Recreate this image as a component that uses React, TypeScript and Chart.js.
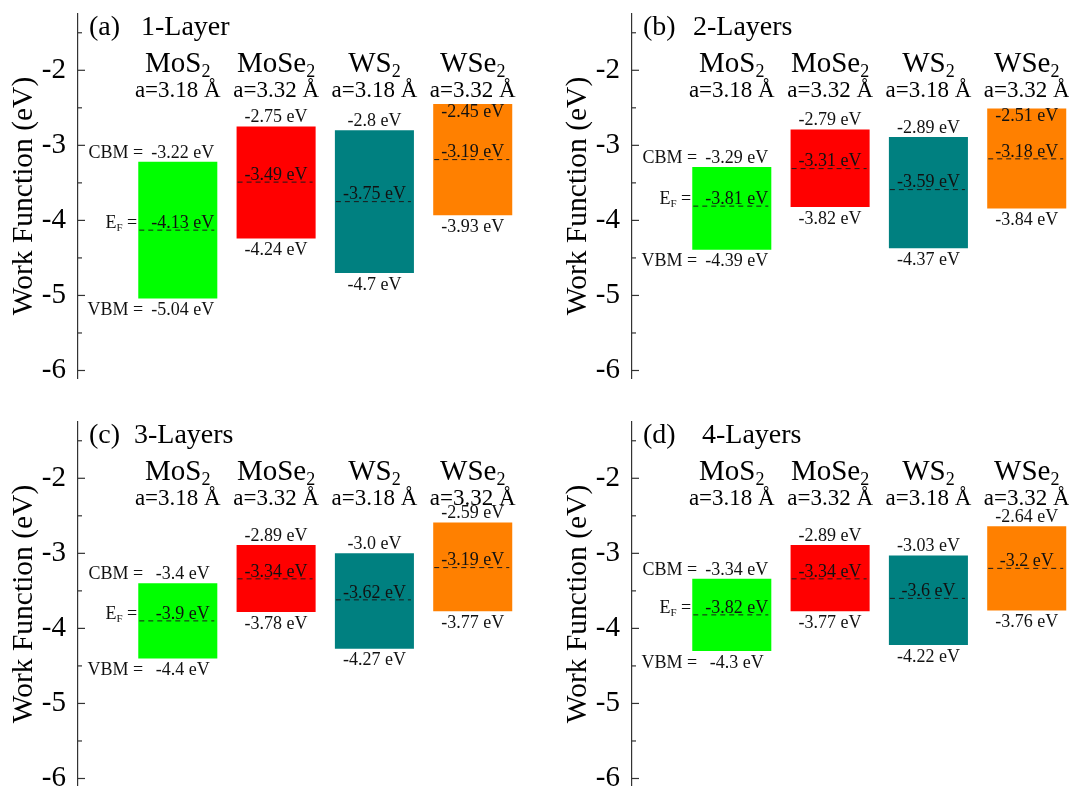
import React, { useEffect, useRef } from 'react';
import { Chart, registerables } from 'chart.js';

Chart.register(...registerables);

// ---------- data ----------
const MATERIAL_FORMULA = ['MoS', 'MoSe', 'WS', 'WSe'];
const MATERIAL_SUB = ['2', '2', '2', '2'];
const LATTICE_LABELS = ['a=3.18 Å', 'a=3.32 Å', 'a=3.18 Å', 'a=3.32 Å'];
const PANEL_LETTERS = ['(a)', '(b)', '(c)', '(d)'];
const PANEL_TITLES = ['1-Layer', '2-Layers', '3-Layers', '4-Layers'];
const X_POSITIONS = [0, 1, 2, 3];
const Y_TICKS = [-6, -5, -4, -3, -2];
const Y_MINOR_TICKS = [-5.5, -4.5, -3.5, -2.5, -1.5];
const Y_TITLE = 'Work Function (eV)';

const CBM_1L = [-3.22, -2.75, -2.8, -2.45];
const EF_1L = [-4.13, -3.49, -3.75, -3.19];
const VBM_1L = [-5.04, -4.24, -4.7, -3.93];

const CBM_2L = [-3.29, -2.79, -2.89, -2.51];
const EF_2L = [-3.81, -3.31, -3.59, -3.18];
const VBM_2L = [-4.39, -3.82, -4.37, -3.84];

const CBM_3L = [-3.4, -2.89, -3.0, -2.59];
const EF_3L = [-3.9, -3.34, -3.62, -3.19];
const VBM_3L = [-4.4, -3.78, -4.27, -3.77];

const CBM_4L = [-3.34, -2.89, -3.03, -2.64];
const EF_4L = [-3.82, -3.34, -3.6, -3.2];
const VBM_4L = [-4.3, -3.77, -4.22, -3.76];

const CBM_ALL = [CBM_1L, CBM_2L, CBM_3L, CBM_4L];
const EF_ALL = [EF_1L, EF_2L, EF_3L, EF_4L];
const VBM_ALL = [VBM_1L, VBM_2L, VBM_3L, VBM_4L];

// ---------- styles / layout ----------
const BAR_COLORS = ['#00ff00', '#ff0000', '#008080', '#ff8000'];
const FONT = '"Liberation Serif", "Times New Roman", serif';
const Y_MIN = -6.1;
const Y_MAX = -1.25;
const AXIS_W = 78;
const AREA_W = 437;
const PANELS = [
  { left: 0, top: 0, width: 540, titleOffset: 63 },
  { left: 554, top: 0, width: 515, titleOffset: 61 },
  { left: 0, top: 408, width: 540, titleOffset: 56 },
  { left: 554, top: 408, width: 515, titleOffset: 70 },
];
const CANVAS_H = 392;
const AREA_TOP = 14;
const AREA_BOTTOM = 378;
const VAL_FONT = 18;

function fmt(v: number): string {
  const s = Number.isInteger(v) ? v.toFixed(1) : String(v);
  return `${s} eV`;
}

function line(ctx: CanvasRenderingContext2D, x1: number, y1: number, x2: number, y2: number) {
  ctx.beginPath();
  ctx.moveTo(x1, y1);
  ctx.lineTo(x2, y2);
  ctx.stroke();
}

function drawSub(
  ctx: CanvasRenderingContext2D,
  main: string,
  sub: string,
  cx: number,
  baseline: number,
  size: number,
  subSize: number,
  drop: number
) {
  ctx.font = `${size}px ${FONT}`;
  const w1 = ctx.measureText(main).width;
  ctx.font = `${subSize}px ${FONT}`;
  const w2 = ctx.measureText(sub).width;
  const x0 = cx - (w1 + w2) / 2;
  ctx.textAlign = 'left';
  ctx.textBaseline = 'alphabetic';
  ctx.font = `${size}px ${FONT}`;
  ctx.fillText(main, x0, baseline);
  ctx.font = `${subSize}px ${FONT}`;
  ctx.fillText(sub, x0 + w1, baseline + drop);
}

function Panel({ idx }: { idx: number }) {
  const ref = useRef<HTMLCanvasElement>(null);
  const p = PANELS[idx];
  useEffect(() => {
    const canvas = ref.current;
    if (!canvas) return;
    const cbm = CBM_ALL[idx];
    const ef = EF_ALL[idx];
    const vbm = VBM_ALL[idx];

    const annot = {
      id: 'annot' + idx,
      afterDatasetsDraw(chart: any) {
        const ctx: CanvasRenderingContext2D = chart.ctx;
        const ys = chart.scales.y;
        const area = chart.chartArea;
        ctx.save();
        // inward ticks
        ctx.strokeStyle = '#333';
        ctx.lineWidth = 1.2;
        Y_TICKS.forEach((v) => {
          const py = ys.getPixelForValue(v);
          line(ctx, area.left, py, area.left + 7, py);
        });
        Y_MINOR_TICKS.forEach((v) => {
          const py = ys.getPixelForValue(v);
          line(ctx, area.left, py, area.left + 4, py);
        });

        const y2 = ys.getPixelForValue(-2);
        ctx.fillStyle = '#000';
        ctx.textAlign = 'left';
        ctx.textBaseline = 'alphabetic';
        ctx.font = `28px ${FONT}`;
        ctx.fillText(PANEL_LETTERS[idx], area.left + 11, y2 - 35);
        ctx.fillText(PANEL_TITLES[idx], area.left + p.titleOffset, y2 - 35);

        const meta = chart.getDatasetMeta(0);
        meta.data.forEach((bar: any, i: number) => {
          const cx = bar.x;
          const w = bar.width;
          const l = cx - w / 2;
          const r = cx + w / 2;
          ctx.fillStyle = '#000';
          drawSub(ctx, MATERIAL_FORMULA[i], MATERIAL_SUB[i], cx, y2 + 2, 29, 18, 5);
          ctx.font = `23px ${FONT}`;
          ctx.textAlign = 'center';
          ctx.textBaseline = 'alphabetic';
          ctx.fillText(LATTICE_LABELS[i], cx, y2 + 27);

          const pyC = ys.getPixelForValue(cbm[i]);
          const pyE = ys.getPixelForValue(ef[i]);
          const pyV = ys.getPixelForValue(vbm[i]);

          ctx.setLineDash([5, 4]);
          ctx.strokeStyle = '#1a1a1a';
          ctx.lineWidth = 1;
          line(ctx, l + 1, pyE, r - 3, pyE);
          ctx.setLineDash([]);

          ctx.fillStyle = '#111';
          ctx.font = `${VAL_FONT}px ${FONT}`;
          ctx.textAlign = 'center';
          ctx.textBaseline = 'middle';
          const vx = i === 0 ? cx + 5 : cx;
          const inside = cbm[i] > -2.55;
          const yC = inside ? pyC + 8 : pyC - 9;
          const yE = pyE - 7;
          const yV = pyV + 12;
          ctx.fillText(fmt(cbm[i]), vx, yC);
          ctx.fillText(fmt(ef[i]), vx, yE);
          ctx.fillText(fmt(vbm[i]), vx, yV);

          if (i === 0) {
            ctx.textAlign = 'right';
            ctx.fillText('CBM =', l + 5, yC);
            ctx.fillText('VBM =', l + 5, yV);
            // E_F =
            ctx.font = `${VAL_FONT}px ${FONT}`;
            const wEq = ctx.measureText(' =').width;
            ctx.font = `11px ${FONT}`;
            const wF = ctx.measureText('F').width;
            ctx.font = `${VAL_FONT}px ${FONT}`;
            const wE = ctx.measureText('E').width;
            const start = l - 1 - wEq - wF - wE;
            ctx.textAlign = 'left';
            ctx.textBaseline = 'middle';
            ctx.fillText('E', start, yE);
            ctx.fillText(' =', start + wE + wF, yE);
            ctx.font = `11px ${FONT}`;
            ctx.fillText('F', start + wE, yE + 5);
          }
        });
        ctx.restore();
      },
    };

    const chart = new Chart(canvas, {
      type: 'bar',
      data: {
        datasets: [
          {
            data: X_POSITIONS.map((x, i) => ({ x, y: [vbm[i], cbm[i]] })) as any,
            backgroundColor: BAR_COLORS,
            borderWidth: 0,
            borderSkipped: false,
            categoryPercentage: 1,
            barPercentage: 0.804,
          },
        ],
      },
      options: {
        responsive: false,
        animation: false,
        devicePixelRatio: 1,
        layout: {
          padding: {
            top: AREA_TOP,
            bottom: CANVAS_H - AREA_BOTTOM,
            left: 0,
            right: p.width - AXIS_W - AREA_W,
          },
        },
        plugins: {
          legend: { display: false },
          tooltip: { enabled: false },
          title: { display: false },
        },
        scales: {
          x: {
            type: 'linear',
            min: -1.015,
            max: 3.43,
            display: false,
            offset: false,
            ticks: { display: false },
            afterBuildTicks: (s: any) => {
              s.ticks = X_POSITIONS.map((v) => ({ value: v }));
            },
            afterFit: (s: any) => {
              s.paddingLeft = 0;
              s.paddingRight = 0;
              s.paddingTop = 0;
              s.paddingBottom = 0;
            },
          },
          y: {
            type: 'linear',
            min: Y_MIN,
            max: Y_MAX,
            afterFit: (s: any) => {
              s.width = AXIS_W;
              s.paddingTop = 0;
              s.paddingBottom = 0;
              s.paddingLeft = 0;
              s.paddingRight = 0;
            },
            afterBuildTicks: (s: any) => {
              s.ticks = Y_TICKS.map((v) => ({ value: v }));
            },
            grid: { display: false, drawTicks: false },
            border: { display: true, color: '#333', width: 1.2 },
            ticks: {
              font: { family: FONT, size: 29 },
              color: '#000',
              padding: 12,
              callback: (v: any) => `${v}`,
            },
            title: {
              display: true,
              text: Y_TITLE,
              font: { family: FONT, size: 29.5 },
              color: '#000',
              padding: { top: 7, bottom: 0 },
            },
          },
        },
      } as any,
      plugins: [annot],
    });
    return () => chart.destroy();
  }, [idx]);

  return (
    <canvas
      ref={ref}
      width={p.width}
      height={CANVAS_H}
      style={{ position: 'absolute', left: p.left, top: p.top, width: p.width, height: CANVAS_H }}
    />
  );
}

export default function App() {
  return (
    <div
      style={{
        position: 'absolute',
        left: 0,
        top: 0,
        width: 1069,
        height: 786,
        overflow: 'hidden',
        background: '#fff',
      }}
    >
      {[0, 1, 2, 3].map((i) => (
        <Panel key={i} idx={i} />
      ))}
    </div>
  );
}
